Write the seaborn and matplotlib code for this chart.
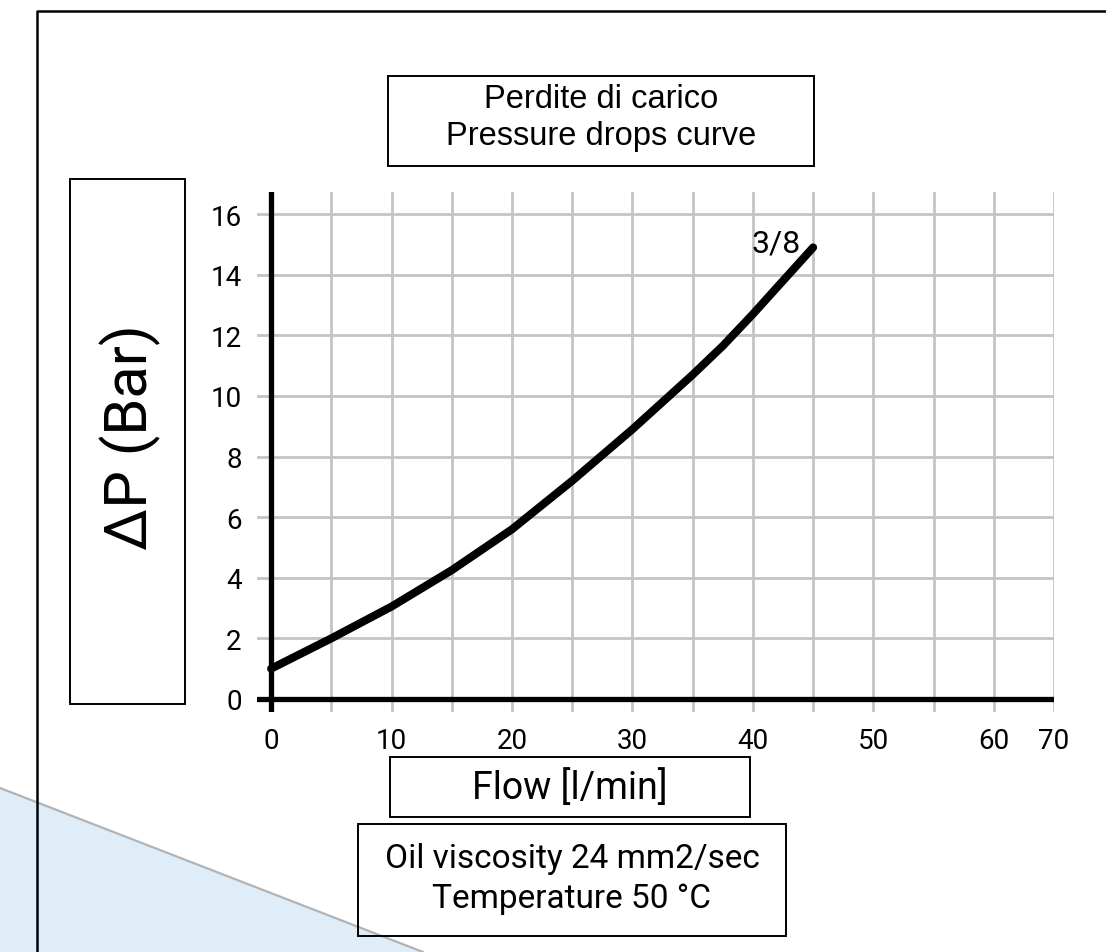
import numpy as np
import pandas as pd
import seaborn as sns
import matplotlib
matplotlib.use("Agg")
from matplotlib import pyplot as plt
from matplotlib.patches import Rectangle, Polygon
from matplotlib.lines import Line2D

# dane
flow = [0, 5, 10, 15, 20, 25, 30, 35, 37.5, 40, 45]
dp = [1.0, 2.0, 3.05, 4.25, 5.6, 7.2, 8.9, 10.7, 11.65, 12.7, 14.9]
x_grid = list(range(0, 66, 5))
x_labels = ["0", "", "10", "", "20", "", "30", "", "40", "", "50", "", "60", "70"]
y_ticks = list(range(0, 17, 2))
curve_name = "3/8"

df = pd.DataFrame({"flow": flow, "dp": dp})

sns.set_style("white")
plt.rcParams["font.family"] = ["Roboto", "DejaVu Sans"]
plt.rcParams["text.color"] = "black"

W, H = 1106, 953
fig = plt.figure(figsize=(W / 100, H / 100), dpi=100)


def fx(px):
    return px / W


def fy(py):
    return 1 - py / H


# tlo - niebieski trojkat i ramka
fig.add_artist(Polygon([(fx(0), fy(789)), (fx(423), fy(953)), (fx(0), fy(953))],
                       closed=True, transform=fig.transFigure,
                       facecolor="#dfedf9", edgecolor="none", zorder=0))
fig.add_artist(Line2D([fx(0), fx(423)], [fy(789), fy(953)], transform=fig.transFigure,
                      color="#b3b3b3", lw=1.6, zorder=0.5))
fig.add_artist(Line2D([fx(37), fx(37), fx(W + 5)], [fy(H + 5), fy(12), fy(12)],
                      transform=fig.transFigure, color="black", lw=1.8, zorder=2))


def box(x0, y0, x1, y1):
    fig.add_artist(Rectangle((fx(x0), fy(y1)), (x1 - x0) / W, (y1 - y0) / H,
                             transform=fig.transFigure, fill=False,
                             edgecolor="black", lw=1.4, zorder=2))


# wykres
ax = fig.add_axes([fx(257), fy(713), fx(1054) - fx(257), fy(193) - fy(713)])
ax.set_xlim(-1.17, 65)
ax.set_ylim(-0.43, 16.73)
ax.set_xticks(x_grid)
ax.set_xticklabels(x_labels)
ax.set_yticks(y_ticks)
ax.grid(True, color="#c4c4c4", lw=2.0)
ax.tick_params(length=0, labelsize=20, pad=11, colors="black")
for s in ax.spines.values():
    s.set_visible(False)
ax.axhline(0, color="black", lw=3.8, zorder=3)
ax.axvline(0, color="black", lw=3.8, zorder=3)
sns.lineplot(data=df, x="flow", y="dp", ax=ax, color="black", lw=5.8,
             solid_capstyle="round", zorder=4)
ax.set_xlabel("")
ax.set_ylabel("")
ax.text(flow[-1] - 3.1, dp[-1] + 0.15, curve_name, fontsize=23, ha="center", va="center")

# ramki z opisami
box(388, 77, 814, 167)
fig.text(fx(601), fy(118), "Perdite di carico\nPressure drops curve",
         family="Liberation Sans", fontsize=23.5, ha="center", va="center",
         linespacing=1.25)

box(70, 180, 185, 705)
fig.text(fx(130), fy(437), "ΔP (Bar)", fontsize=43, rotation=90,
         ha="center", va="center")

box(390, 758, 750, 818)
fig.text(fx(570), fy(788), "Flow [l/min]", fontsize=27, ha="center", va="center")

box(358, 825, 786, 937)
fig.text(fx(572), fy(879), "Oil viscosity 24 mm2/sec\nTemperature 50 °C",
         fontsize=24, ha="center", va="center", linespacing=1.35)

plt.savefig("out.png", dpi=100)
